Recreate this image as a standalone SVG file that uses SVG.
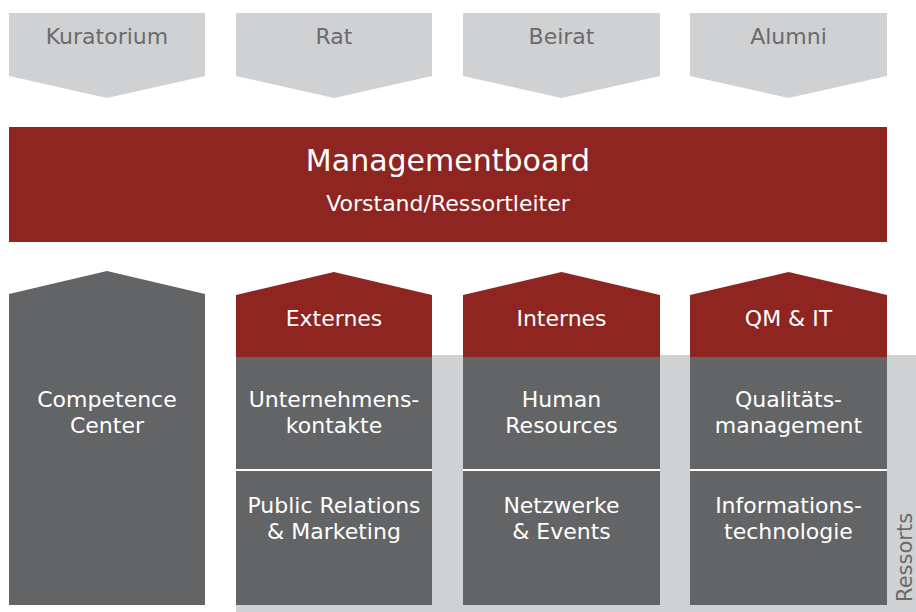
<svg xmlns="http://www.w3.org/2000/svg" width="916" height="612" viewBox="0 0 916 612">
<style>
.lg{fill:#d0d1d3}
.dk{fill:#636466}
.rd{fill:#8e2521}
text{font-family:"DejaVu Sans","Liberation Sans",sans-serif;font-size:22px;text-anchor:middle}
.tg{fill:#6a6b6e}
.tw{fill:#ffffff}
.div{stroke:#ffffff;stroke-width:2}
</style>
<rect x="0" y="0" width="916" height="612" fill="#ffffff"/>
<rect id="ressorts-bg" class="lg" x="236" y="355" width="680" height="257"/>
<text class="tg" transform="translate(912,602) rotate(-90)" style="text-anchor:start;font-size:21px">Ressorts</text>
<g id="kuratorium"><polygon class="lg" points="9,13 205,13 205,76 107,98 9,76"/><text class="tg" x="107" y="44">Kuratorium</text></g>
<g id="rat"><polygon class="lg" points="236,13 432,13 432,76 334,98 236,76"/><text class="tg" x="334" y="44">Rat</text></g>
<g id="beirat"><polygon class="lg" points="463,13 660,13 660,76 561.5,98 463,76"/><text class="tg" x="561.5" y="44">Beirat</text></g>
<g id="alumni"><polygon class="lg" points="690,13 887,13 887,76 788.5,98 690,76"/><text class="tg" x="788.5" y="44">Alumni</text></g>
<g id="managementboard"><rect class="rd" x="9" y="127" width="878" height="115"/><text class="tw" x="448" y="171" style="font-size:30px">Managementboard</text><text class="tw" x="448" y="211">Vorstand/Ressortleiter</text></g>
<g id="competence"><polygon class="dk" points="9,294 107,271 205,294 205,605 9,605"/><text class="tw" x="107" y="407">Competence</text><text class="tw" x="107" y="433">Center</text></g>
<g id="externes"><polygon class="rd" points="236,295 334,272 432,295 432,357 236,357"/><text class="tw" x="334" y="326">Externes</text>
<rect class="dk" x="236" y="357" width="196" height="248"/>
<line class="div" x1="236" y1="470" x2="432" y2="470"/>
<text class="tw" x="334" y="407">Unternehmens-</text><text class="tw" x="334" y="433">kontakte</text>
<text class="tw" x="334" y="513">Public Relations</text><text class="tw" x="334" y="539">&amp; Marketing</text></g>
<g id="internes"><polygon class="rd" points="463,295 561.5,272 660,295 660,357 463,357"/><text class="tw" x="561.5" y="326">Internes</text>
<rect class="dk" x="463" y="357" width="197" height="248"/>
<line class="div" x1="463" y1="470" x2="660" y2="470"/>
<text class="tw" x="561.5" y="407">Human</text><text class="tw" x="561.5" y="433">Resources</text>
<text class="tw" x="561.5" y="513">Netzwerke</text><text class="tw" x="561.5" y="539">&amp; Events</text></g>
<g id="qmit"><polygon class="rd" points="690,295 788.5,272 887,295 887,357 690,357"/><text class="tw" x="788.5" y="326">QM &amp; IT</text>
<rect class="dk" x="690" y="357" width="197" height="248"/>
<line class="div" x1="690" y1="470" x2="887" y2="470"/>
<text class="tw" x="788.5" y="407">Qualitäts-</text><text class="tw" x="788.5" y="433">management</text>
<text class="tw" x="788.5" y="513">Informations-</text><text class="tw" x="788.5" y="539">technologie</text></g>
<g id="connectors"></g>
</svg>
